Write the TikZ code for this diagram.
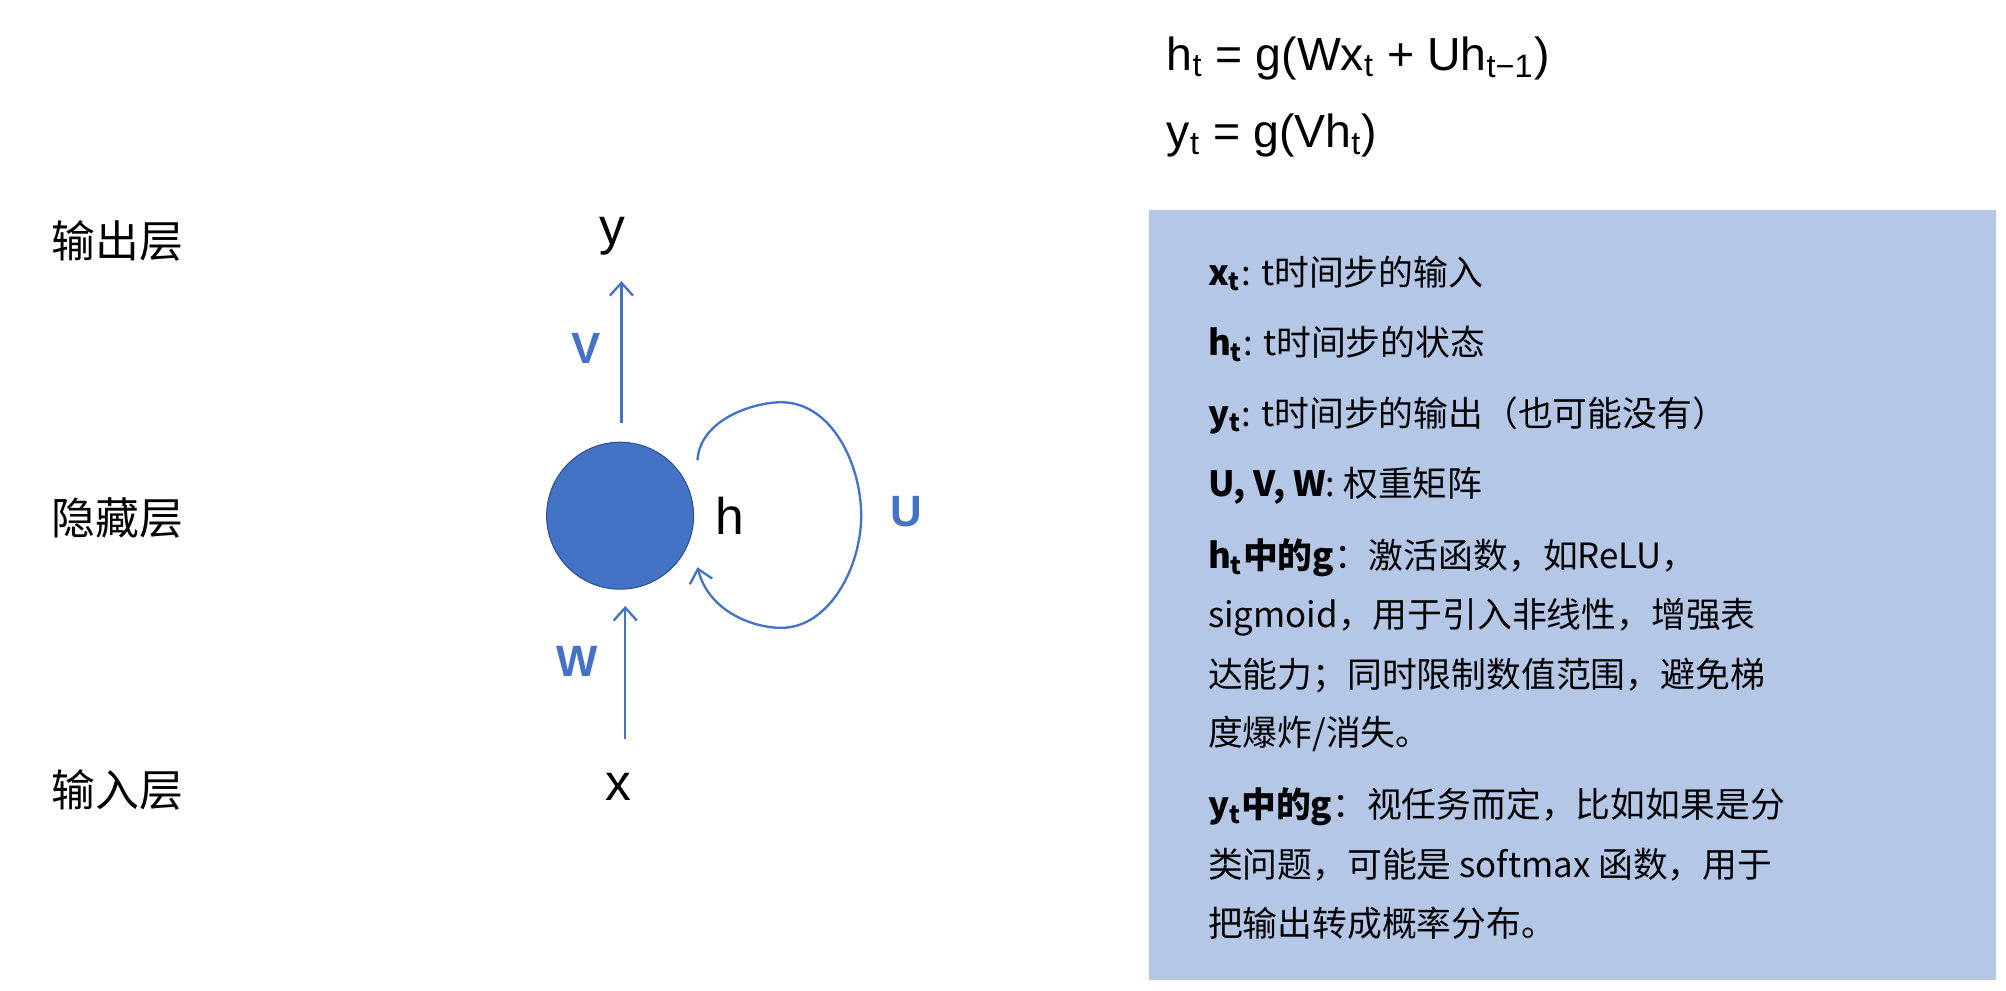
\documentclass[tikz,border=0pt]{standalone}
\usepackage{fontspec}
\setmainfont{Liberation Sans}
\newfontfamily\cjk{Noto Sans CJK SC}
\usetikzlibrary{arrows.meta}
\definecolor{rnnblue}{HTML}{4472C4}
\definecolor{boxblue}{HTML}{B4C7E7}
\tikzset{
  layer/.style={anchor=west,font=\cjk\fontsize{17}{20}\selectfont},
  var/.style={font=\fontsize{20}{24}\selectfont},
  wlab/.style={text=rnnblue,font=\bfseries\fontsize{17}{20}\selectfont},
  conn/.style={draw=rnnblue,line width=0.9pt,-{Straight Barb[length=5pt,width=9pt]}},
  eq/.style={anchor=west,font=\fontsize{18}{22}\selectfont},
  info/.style={anchor=west,font=\cjk\fontsize{13.5}{16}\selectfont},
}
\newcommand{\ssb}[1]{\textsubscript{#1}}
\begin{document}
\begin{tikzpicture}[x=0.5pt,y=-0.5pt]
\useasboundingbox (0,0) rectangle (1556,768);
% left labels
\node[layer] (lo) at (33,187) {输出层};
\node[layer] (lh) at (33,402) {隐藏层};
\node[layer] (li) at (33,613) {输入层};
% network
\node[circle,fill=rnnblue,draw=rnnblue!70!black,line width=0.4pt,minimum size=57pt,inner sep=0pt] (h) at (481,400) {};
\node[var] (y) at (475,183) {y};
\node[var] (x) at (480,610) {x};
\node[var] (hl) at (566,400) {h};
\coordinate (vs) at (482,328);
\coordinate (ve) at (482,218);
\coordinate (ws) at (485,573);
\coordinate (we) at (485,470);
\draw[conn] (vs) -- (ve);
\draw[conn] (ws) -- (we);
\node[wlab] (V) at (455,270) {V};
\node[wlab] (W) at (448,513) {W};
\node[wlab] (U) at (703,397) {U};
\coordinate (ls) at (541,357);
\coordinate (le) at (541,440);
\draw[conn] (ls) .. controls (543,325) and (585,312) .. (606,312)
  .. controls (645,312) and (668,360) .. (668,400)
  .. controls (668,440) and (643,487) .. (606,487)
  .. controls (585,487) and (550,475) .. (le);
% equations
\node[eq] (e1) at (898,45) {h\ssb{t} = g(Wx\ssb{t} + Uh\ssb{t−1})};
\node[eq] (e2) at (898,105) {y\ssb{t} = g(Vh\ssb{t})};
% box
\fill[boxblue] (891,163) rectangle (1548,760);
\node[info] (i1) at (930,212) {\textbf{x\ssb{t}}: t时间步的输入};
\node[info] (i2) at (930,267) {\textbf{h\ssb{t}}: t时间步的状态};
\node[info] (i3) at (930,322) {\textbf{y\ssb{t}}: t时间步的输出（也可能没有）};
\node[info] (i4) at (930,377) {\textbf{U, V, W}: 权重矩阵};
\node[info] (i5) at (930,433) {\textbf{h\ssb{t}中的g}：激活函数，如ReLU，};
\node[info] (i6) at (930,479) {sigmoid，用于引入非线性，增强表};
\node[info] (i7) at (930,524) {达能力；同时限制数值范围，避免梯};
\node[info] (i8) at (930,569) {度爆炸/消失。};
\node[info] (i9) at (930,626) {\textbf{y\ssb{t}中的g}：视任务而定，比如如果是分};
\node[info] (i10) at (930,671) {类问题，可能是 softmax 函数，用于};
\node[info] (i11) at (930,716) {把输出转成概率分布。};
\end{tikzpicture}
\end{document}
